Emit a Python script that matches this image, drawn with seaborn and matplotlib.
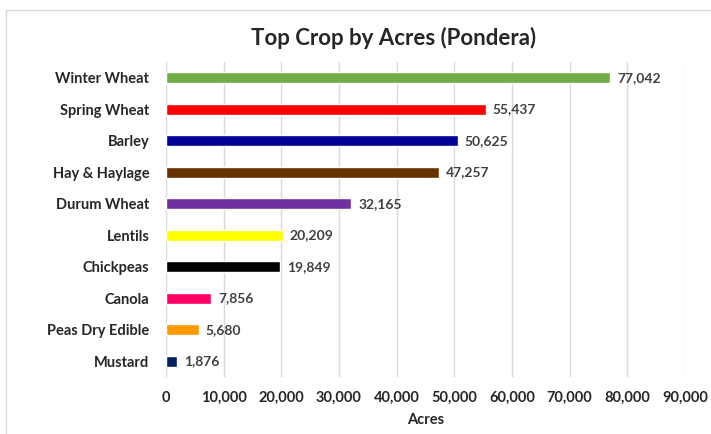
import matplotlib
matplotlib.use("Agg")
import matplotlib.pyplot as plt
import seaborn as sns
from matplotlib.patches import Rectangle
from matplotlib.ticker import FuncFormatter

crops = ["Winter Wheat", "Spring Wheat", "Barley", "Hay & Haylage", "Durum Wheat",
         "Lentils", "Chickpeas", "Canola", "Peas Dry Edible", "Mustard"]
acres = [77042, 55437, 50625, 47257, 32165, 20209, 19849, 7856, 5680, 1876]
bar_colors = ["#70AD47", "#FF0000", "#000099", "#663300", "#7030A0",
              "#FFFF00", "#000000", "#FF0066", "#FF9900", "#002060"]
x_ticks = list(range(0, 90001, 10000))

sns.set_style("white")
plt.rcParams["font.family"] = ["Lato", "DejaVu Sans"]

fig = plt.figure(figsize=(7.11, 4.34), dpi=100)
ax = fig.add_axes([0.2335, 0.1313, 0.7299, 0.7258])

# light chart border like the spreadsheet chart frame
fig.patches.append(Rectangle((6 / 711, -0.1), 1.2, 1.1 - 10 / 434,
                             transform=fig.transFigure, fill=False,
                             edgecolor="#D9D9D9", linewidth=1))

sns.barplot(x=acres, y=crops, hue=crops, palette=bar_colors, orient="h",
            width=0.35, legend=False, saturation=1, ax=ax)

for cont in ax.containers:
    ax.bar_label(cont, labels=[f"{v:,.0f}" for v in cont.datavalues],
                 padding=5, fontsize=10, fontweight="bold", color="#404040")

ax.set_xlim(0, 90000)
ax.set_xticks(x_ticks)
ax.xaxis.set_major_formatter(FuncFormatter(lambda v, p: f"{v:,.0f}"))
ax.grid(axis="x", color="#D9D9D9", linewidth=1)
ax.set_axisbelow(True)
for s in ax.spines.values():
    s.set_visible(False)
ax.tick_params(axis="both", length=0, labelsize=10.5)
ax.tick_params(axis="x", pad=10)
ax.tick_params(axis="y", pad=12)
for lbl in ax.get_xticklabels() + ax.get_yticklabels():
    lbl.set_fontweight("bold")

ax.set_xlabel("Acres", fontsize=10.5, fontweight="bold", labelpad=6)
ax.set_ylabel("")
fig.text(0.553, 0.912, "Top Crop by Acres (Pondera)", ha="center", va="center",
         fontsize=16, fontweight="bold")

fig.savefig("out.png", dpi=100)
